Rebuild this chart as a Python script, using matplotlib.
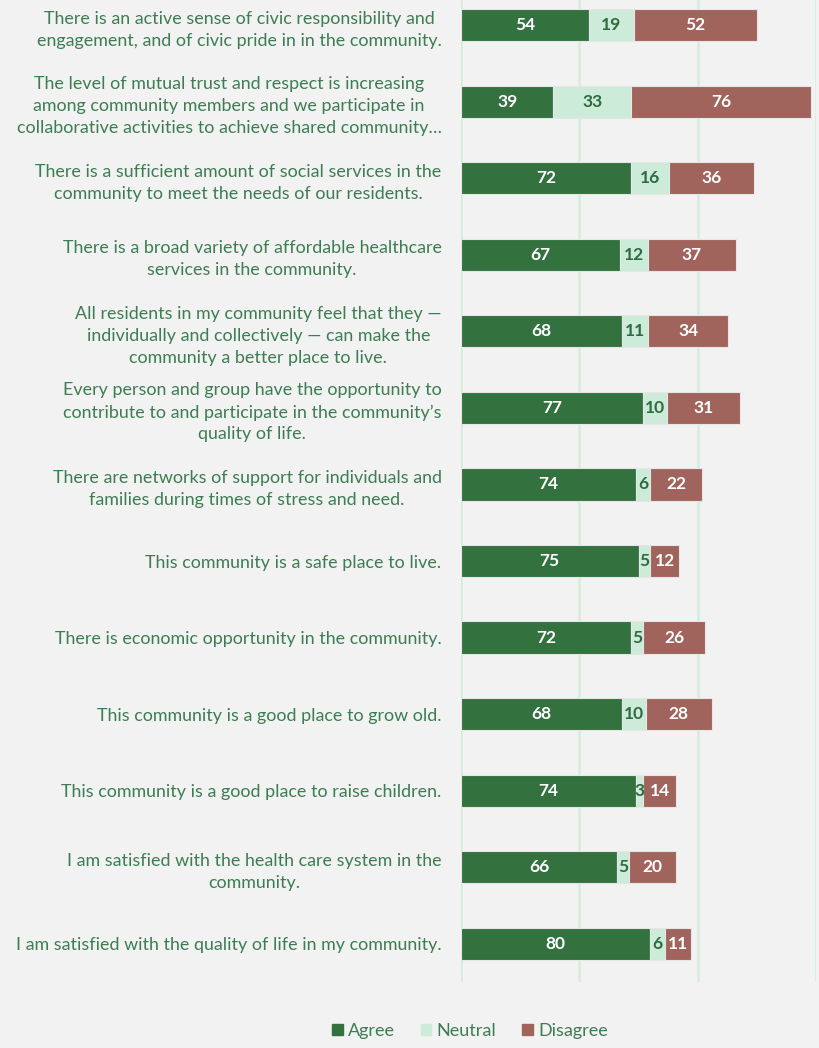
import matplotlib.pyplot as plt
import numpy as np

# data (top to bottom as in the chart)
statements = [
    "There is an active sense of civic responsibility and\nengagement, and of civic pride in in the community.",
    "The level of mutual trust and respect is increasing\namong community members and we participate in\ncollaborative activities to achieve shared community\u2026",
    "There is a sufficient amount of social services in the\ncommunity to meet the needs of our residents.",
    "There is a broad variety of affordable healthcare\nservices in the community.",
    "All residents in my community feel that they \u2014\nindividually and collectively \u2014 can make the\ncommunity a better place to live.",
    "Every person and group have the opportunity to\ncontribute to and participate in the community\u2019s\nquality of life.",
    "There are networks of support for individuals and\nfamilies during times of stress and need.",
    "This community is a safe place to live.",
    "There is economic opportunity in the community.",
    "This community is a good place to grow old.",
    "This community is a good place to raise children.",
    "I am satisfied with the health care system in the\ncommunity.",
    "I am satisfied with the quality of life in my community.",
]
agree = [54, 39, 72, 67, 68, 77, 74, 75, 72, 68, 74, 66, 80]
neutral = [19, 33, 16, 12, 11, 10, 6, 5, 5, 10, 3, 5, 6]
disagree = [52, 76, 36, 37, 34, 31, 22, 12, 26, 28, 14, 20, 11]

bg = '#f2f2f2'
c_agree = '#33713f'
c_neutral = '#cdebd9'
c_disagree = '#a0645c'
txt = '#3c7d52'

plt.rcParams['font.family'] = ['Lato', 'DejaVu Sans']

fig = plt.figure(figsize=(8.2, 10.48), dpi=100, facecolor=bg)
ax = fig.add_axes([461 / 820, 1 - 982 / 1048, (816 - 461) / 820, 982 / 1048])
ax.set_facecolor(bg)

n = len(statements)
y = np.arange(n)[::-1]
h = 0.42
a = np.array(agree)
nu = np.array(neutral)
d = np.array(disagree)

ax.barh(y, a, height=h, color=c_agree, edgecolor='#e6e6e6', linewidth=0.8, zorder=3)
ax.barh(y, nu, left=a, height=h, color=c_neutral, edgecolor='#e6e6e6', linewidth=0.8, zorder=3)
ax.barh(y, d, left=a + nu, height=h, color=c_disagree, edgecolor='#e6e6e6', linewidth=0.8, zorder=3)

for yi, av, nv, dv in zip(y, a, nu, d):
    ax.text(av / 2, yi, str(av), ha='center', va='center', color='white',
            fontsize=12.5, fontweight='bold', zorder=4)
    ax.text(av + nv / 2, yi, str(nv), ha='center', va='center', color='#2f6b40',
            fontsize=12.5, fontweight='bold', zorder=4)
    ax.text(av + nv + dv / 2, yi, str(dv), ha='center', va='center', color='white',
            fontsize=12.5, fontweight='bold', zorder=4)

ax.set_xlim(0, 150)
ax.set_ylim(-0.5, n - 1 + 0.33)
ax.set_xticks([0, 50, 100, 150])
ax.grid(axis='x', color='#d5ecdd', linewidth=1.8, zorder=0)
ax.set_yticks(y)
ax.set_yticklabels(statements, fontsize=12.9, color=txt, multialignment='center',
                   linespacing=1.45)
ax.tick_params(axis='y', length=0, pad=14)
ax.tick_params(axis='x', length=0, labelbottom=False)
for s in ax.spines.values():
    s.set_visible(False)

handles = [plt.Rectangle((0, 0), 1, 1, color=c) for c in (c_agree, c_neutral, c_disagree)]
fig.legend(handles, ['Agree', 'Neutral', 'Disagree'], loc='center',
           bbox_to_anchor=(470 / 820, 1 - 1031 / 1048), ncol=3, frameon=False,
           fontsize=13, labelcolor=txt, handlelength=0.6, handleheight=0.6,
           handletextpad=0.3, columnspacing=1.4)

fig.savefig('out.png', dpi=100, facecolor=bg)
